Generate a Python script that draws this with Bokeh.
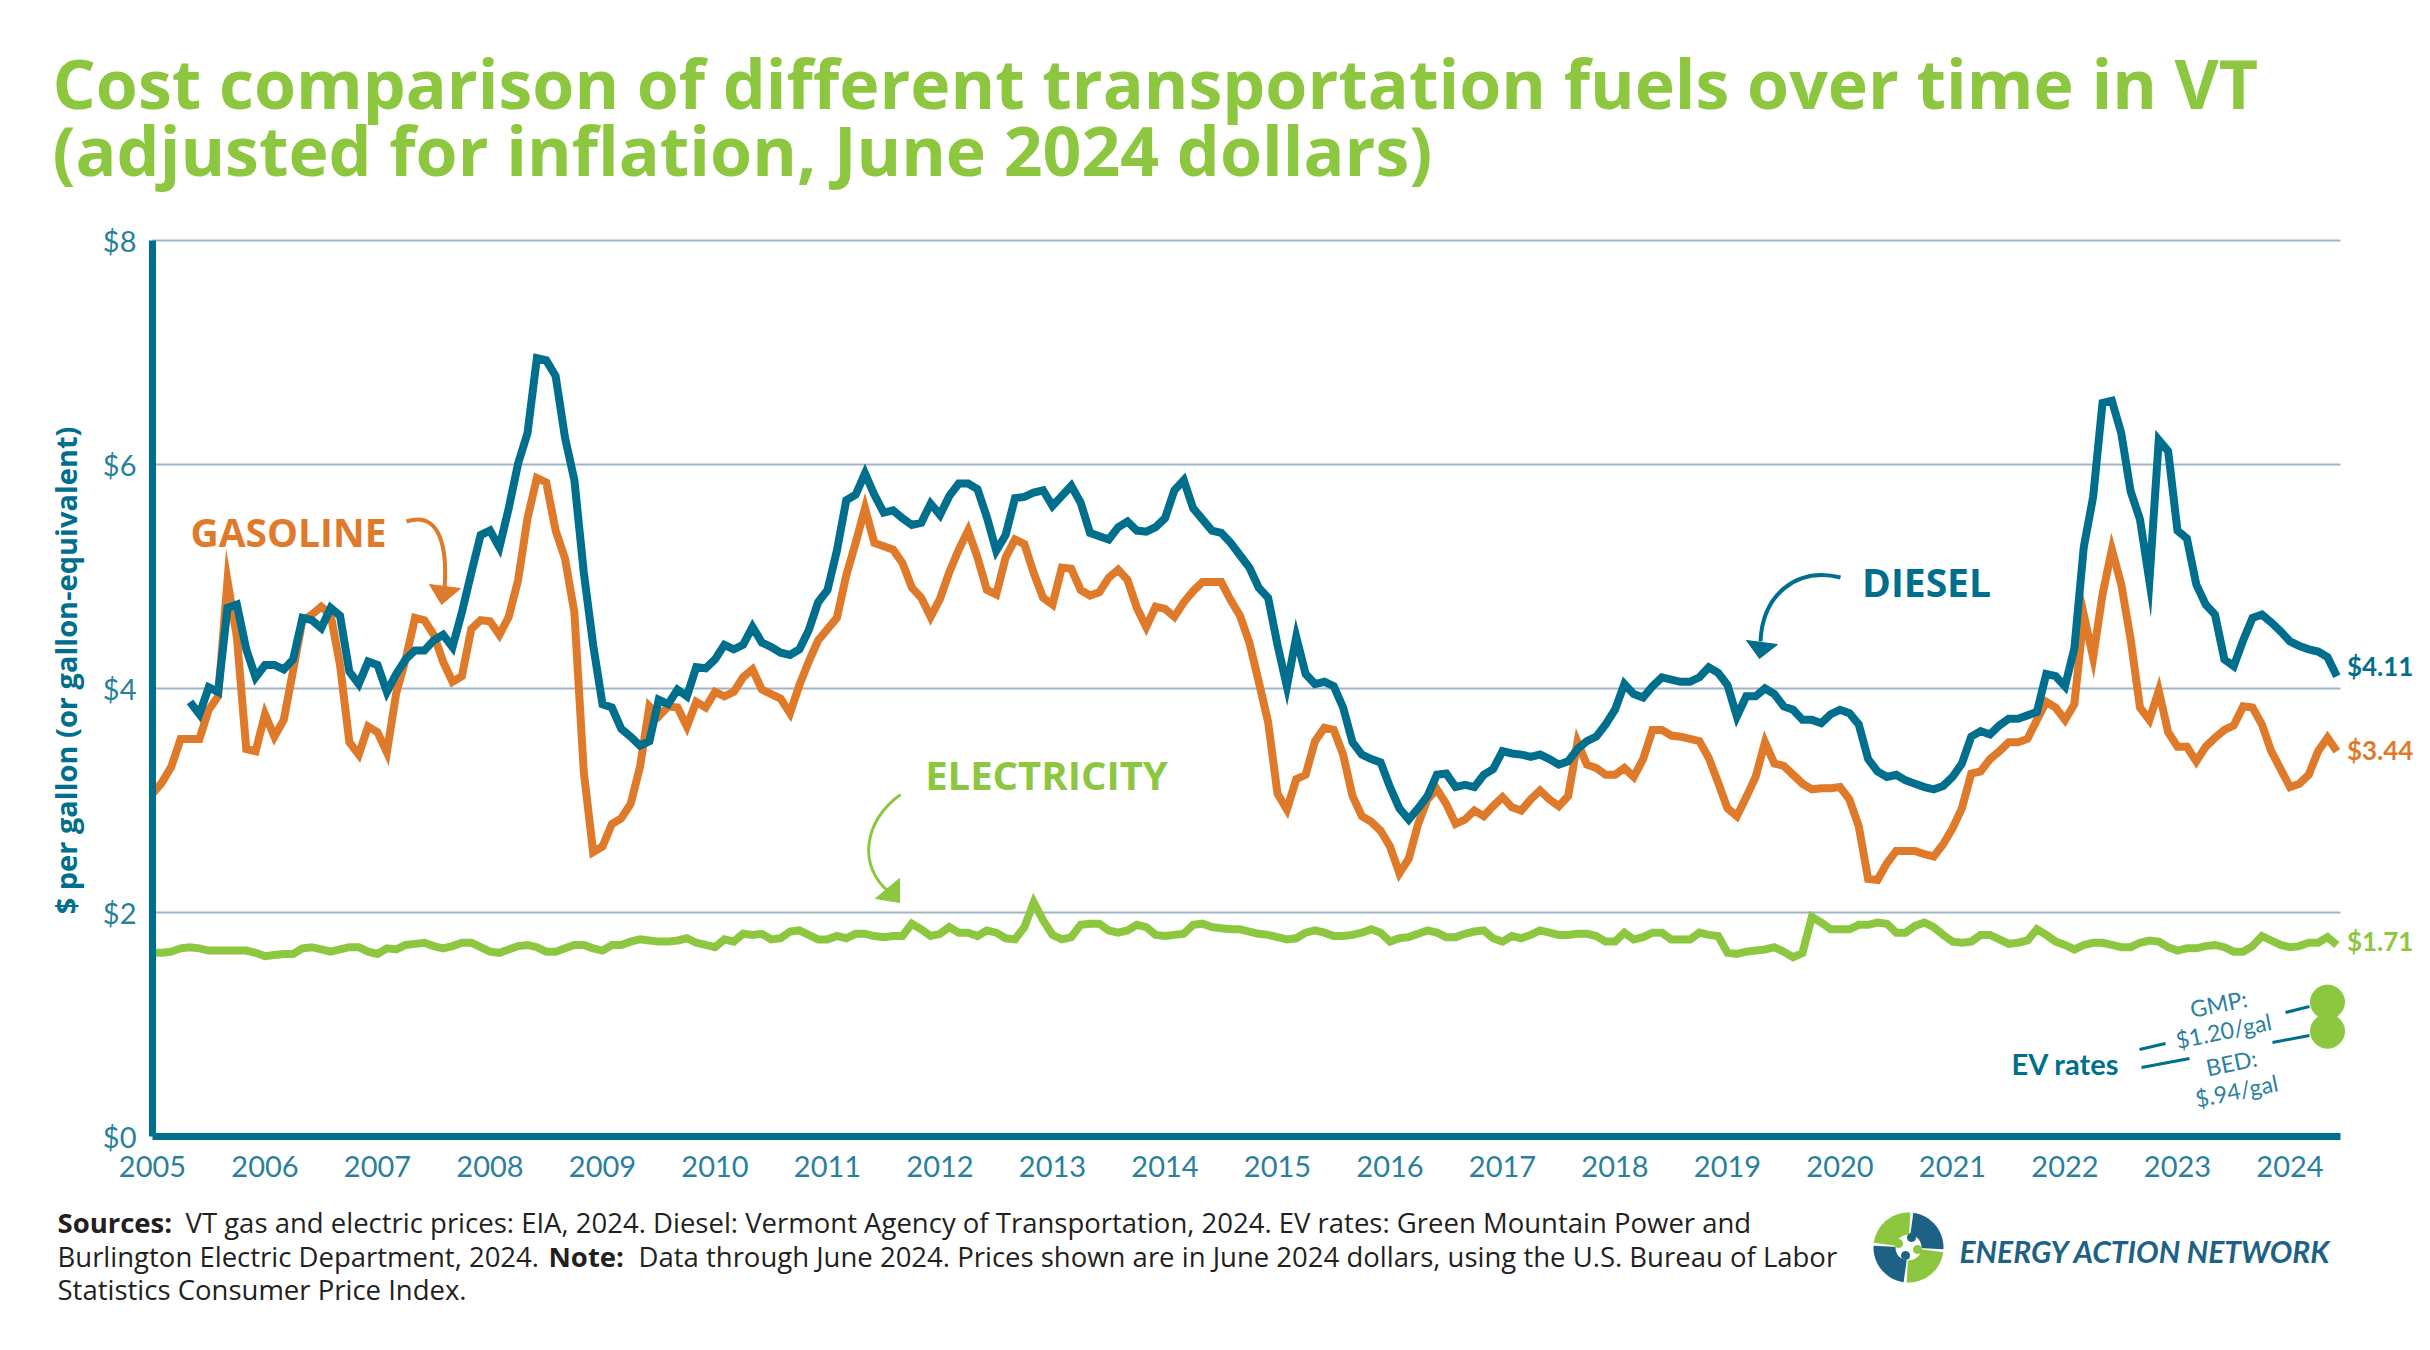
import math
from bokeh.plotting import figure
from bokeh.models import Range1d, FixedTicker, Label, PolyAnnotation
from bokeh.embed import file_html
from bokeh.resources import INLINE

# ---------------- data ----------------
YEARS = list(range(2005, 2025))
Y_TICKS = [0, 2, 4, 6, 8]
Y_TICK_LABELS = ["$0", "$2", "$4", "$6", "$8"]

# monthly, Jan 2005 .. Jun 2024, June-2024 dollars per gallon
gasoline = [
    3.06, 3.16, 3.30, 3.55, 3.55, 3.55, 3.81, 3.93, 4.96, 4.46, 3.46, 3.44,  # 2005
    3.77, 3.57, 3.72, 4.16, 4.61, 4.66, 4.73, 4.66, 4.21, 3.52, 3.41, 3.66,  # 2006
    3.61, 3.43, 3.96, 4.26, 4.63, 4.61, 4.48, 4.24, 4.06, 4.11, 4.53, 4.61,  # 2007
    4.60, 4.48, 4.64, 4.97, 5.52, 5.88, 5.84, 5.41, 5.16, 4.68, 3.26, 2.54,  # 2008
    2.59, 2.79, 2.84, 2.97, 3.30, 3.84, 3.75, 3.84, 3.83, 3.66, 3.88, 3.83,  # 2009
    3.97, 3.93, 3.97, 4.10, 4.17, 3.99, 3.95, 3.91, 3.78, 4.03, 4.24, 4.43,  # 2010
    4.53, 4.63, 5.01, 5.30, 5.61, 5.30, 5.27, 5.24, 5.12, 4.90, 4.81, 4.64,  # 2011
    4.80, 5.04, 5.24, 5.41, 5.17, 4.88, 4.84, 5.17, 5.33, 5.29, 5.03, 4.81,  # 2012
    4.75, 5.08, 5.07, 4.88, 4.83, 4.86, 4.99, 5.06, 4.97, 4.72, 4.55, 4.73,  # 2013
    4.71, 4.64, 4.77, 4.87, 4.95, 4.95, 4.95, 4.79, 4.65, 4.41, 4.06, 3.70,  # 2014
    3.06, 2.92, 3.19, 3.23, 3.53, 3.65, 3.63, 3.41, 3.04, 2.86, 2.81, 2.73,  # 2015
    2.59, 2.35, 2.48, 2.79, 3.01, 3.10, 2.97, 2.79, 2.83, 2.91, 2.86, 2.95,  # 2016
    3.03, 2.94, 2.91, 3.01, 3.09, 3.01, 2.95, 3.04, 3.52, 3.32, 3.29, 3.23,  # 2017
    3.23, 3.29, 3.21, 3.37, 3.63, 3.63, 3.58, 3.57, 3.55, 3.53, 3.38, 3.16,  # 2018
    2.93, 2.86, 3.03, 3.21, 3.52, 3.33, 3.31, 3.23, 3.15, 3.10, 3.11, 3.11,  # 2019
    3.12, 3.01, 2.77, 2.30, 2.29, 2.44, 2.55, 2.55, 2.55, 2.52, 2.50, 2.61,  # 2020
    2.75, 2.93, 3.24, 3.26, 3.37, 3.44, 3.52, 3.52, 3.55, 3.72, 3.88, 3.83,  # 2021
    3.72, 3.86, 4.66, 4.28, 4.84, 5.24, 4.93, 4.44, 3.83, 3.72, 3.98, 3.61,  # 2022
    3.48, 3.48, 3.35, 3.48, 3.56, 3.63, 3.67, 3.84, 3.83, 3.68, 3.44, 3.28,  # 2023
    3.12, 3.15, 3.23, 3.44, 3.56, 3.44,                                      # 2024
]

# monthly, May 2005 .. Jun 2024
diesel = [
    3.88, 3.77, 4.01, 3.97, 4.72, 4.75, 4.35, 4.10,                          # 2005 (May-Dec)
    4.21, 4.21, 4.17, 4.26, 4.63, 4.61, 4.54, 4.72, 4.65, 4.15, 4.04, 4.24,  # 2006
    4.21, 3.97, 4.13, 4.26, 4.34, 4.34, 4.43, 4.48, 4.37, 4.68, 5.03, 5.37,  # 2007
    5.41, 5.26, 5.61, 6.01, 6.28, 6.95, 6.93, 6.79, 6.24, 5.86, 5.04, 4.39,  # 2008
    3.86, 3.83, 3.64, 3.57, 3.49, 3.53, 3.90, 3.86, 3.99, 3.93, 4.19, 4.18,  # 2009
    4.26, 4.39, 4.35, 4.39, 4.55, 4.41, 4.37, 4.32, 4.30, 4.35, 4.52, 4.77,  # 2010
    4.88, 5.23, 5.68, 5.73, 5.92, 5.73, 5.57, 5.59, 5.52, 5.46, 5.48, 5.65,  # 2011
    5.55, 5.72, 5.83, 5.83, 5.78, 5.53, 5.23, 5.37, 5.70, 5.71, 5.75, 5.77,  # 2012
    5.63, 5.72, 5.81, 5.66, 5.39, 5.36, 5.33, 5.44, 5.49, 5.41, 5.40, 5.44,  # 2013
    5.52, 5.77, 5.86, 5.61, 5.51, 5.41, 5.39, 5.30, 5.19, 5.08, 4.90, 4.81,  # 2014
    4.39, 4.02, 4.46, 4.13, 4.04, 4.06, 4.02, 3.83, 3.52, 3.41, 3.37, 3.34,  # 2015
    3.12, 2.93, 2.83, 2.93, 3.04, 3.23, 3.24, 3.12, 3.14, 3.12, 3.23, 3.28,  # 2016
    3.44, 3.42, 3.41, 3.39, 3.41, 3.37, 3.32, 3.35, 3.46, 3.53, 3.57, 3.68,  # 2017
    3.81, 4.04, 3.95, 3.92, 4.02, 4.10, 4.08, 4.06, 4.06, 4.10, 4.19, 4.14,  # 2018
    4.03, 3.75, 3.93, 3.93, 4.00, 3.95, 3.84, 3.81, 3.72, 3.72, 3.69, 3.77,  # 2019
    3.81, 3.78, 3.68, 3.37, 3.26, 3.21, 3.23, 3.18, 3.15, 3.12, 3.10, 3.13,  # 2020
    3.21, 3.33, 3.57, 3.62, 3.59, 3.67, 3.73, 3.73, 3.76, 3.79, 4.13, 4.11,  # 2021
    4.02, 4.36, 5.26, 5.71, 6.55, 6.57, 6.28, 5.76, 5.51, 4.96, 6.22, 6.12,  # 2022
    5.41, 5.34, 4.93, 4.75, 4.66, 4.26, 4.20, 4.43, 4.63, 4.66, 4.59, 4.51,  # 2023
    4.42, 4.38, 4.35, 4.33, 4.28, 4.11,                                      # 2024
]

# monthly, Jan 2005 .. Jun 2024, $ per gallon-equivalent
electricity = [
    1.64, 1.64, 1.65, 1.68, 1.69, 1.68, 1.66, 1.66, 1.66, 1.66, 1.66, 1.64,  # 2005
    1.61, 1.62, 1.63, 1.63, 1.68, 1.69, 1.67, 1.65, 1.67, 1.69, 1.69, 1.65,  # 2006
    1.63, 1.68, 1.67, 1.71, 1.72, 1.73, 1.70, 1.68, 1.70, 1.73, 1.73, 1.69,  # 2007
    1.65, 1.64, 1.67, 1.70, 1.71, 1.69, 1.65, 1.65, 1.68, 1.71, 1.71, 1.68,  # 2008
    1.66, 1.71, 1.71, 1.74, 1.76, 1.75, 1.74, 1.74, 1.75, 1.77, 1.73, 1.71,  # 2009
    1.69, 1.76, 1.74, 1.81, 1.80, 1.81, 1.76, 1.77, 1.83, 1.84, 1.80, 1.76,  # 2010
    1.76, 1.79, 1.77, 1.81, 1.81, 1.79, 1.78, 1.79, 1.79, 1.90, 1.85, 1.79,  # 2011
    1.81, 1.87, 1.82, 1.82, 1.79, 1.84, 1.82, 1.77, 1.76, 1.87, 2.09, 1.93,  # 2012
    1.80, 1.76, 1.78, 1.89, 1.90, 1.90, 1.84, 1.82, 1.84, 1.89, 1.87, 1.80,  # 2013
    1.79, 1.80, 1.81, 1.89, 1.90, 1.87, 1.86, 1.85, 1.85, 1.83, 1.81, 1.80,  # 2014
    1.78, 1.76, 1.77, 1.82, 1.84, 1.82, 1.79, 1.79, 1.80, 1.82, 1.85, 1.82,  # 2015
    1.74, 1.77, 1.78, 1.81, 1.84, 1.82, 1.78, 1.78, 1.81, 1.83, 1.84, 1.77,  # 2016
    1.74, 1.79, 1.77, 1.80, 1.84, 1.82, 1.80, 1.80, 1.81, 1.81, 1.79, 1.74,  # 2017
    1.74, 1.82, 1.76, 1.78, 1.82, 1.82, 1.76, 1.76, 1.76, 1.82, 1.80, 1.79,  # 2018
    1.64, 1.63, 1.65, 1.66, 1.67, 1.69, 1.65, 1.60, 1.64, 1.96, 1.91, 1.85,  # 2019
    1.85, 1.85, 1.89, 1.89, 1.91, 1.90, 1.82, 1.82, 1.88, 1.91, 1.87, 1.80,  # 2020
    1.74, 1.73, 1.74, 1.80, 1.80, 1.76, 1.72, 1.73, 1.75, 1.85, 1.80, 1.74,  # 2021
    1.71, 1.67, 1.71, 1.73, 1.73, 1.71, 1.69, 1.69, 1.73, 1.75, 1.74, 1.69,  # 2022
    1.66, 1.68, 1.68, 1.70, 1.71, 1.69, 1.65, 1.65, 1.70, 1.79, 1.75, 1.71,  # 2023
    1.69, 1.70, 1.73, 1.73, 1.78, 1.71,                                      # 2024
]

ev_rate_names = ["GMP", "BED"]
ev_rate_values = [1.20, 0.94]

# ---------------- styling ----------------
TEAL = "#006E8D"
ORANGE = "#DF7A2B"
GREEN = "#8DC63F"
TICK = "#2B7F9E"
GRID = "#9DB4C9"
DARK = "#231F20"
LOGO_TEAL = "#1D6285"
FONT = "Lato"
BOLDFONT = "Open Sans"

W, H = 2430, 1350
FL, FR, FT, FB = 152, 2340, 240, 1136  # plot-area edges (px)
PX_YEAR = 112.5
PX_DOLLAR = (FB - FT) / 8.0


def dx(px):
    return 2005 + (px - FL) / PX_YEAR


def dy(py):
    return (FB - py) / PX_DOLLAR


X_END = dx(FR)
months = [2005 + i / 12 for i in range(len(gasoline))]
diesel_x = months[len(months) - len(diesel):]

# the frame covers the whole canvas; axes are pinned at the plot-area edges
p = figure(width=W, height=H, x_range=Range1d(dx(0), dx(W)), y_range=Range1d(dy(H), dy(0)),
           output_backend="svg", toolbar_location=None, min_border=0)
p.min_border_left = p.min_border_right = p.min_border_top = p.min_border_bottom = 0
p.outline_line_color = None
p.background_fill_color = "white"
p.border_fill_color = "white"
p.grid.visible = False

p.yaxis.ticker = FixedTicker(ticks=Y_TICKS)
p.yaxis.major_label_overrides = {t: s for t, s in zip(Y_TICKS, Y_TICK_LABELS)}
p.yaxis.fixed_location = 2005
p.yaxis.bounds = (Y_TICKS[0], Y_TICKS[-1])
p.xaxis.ticker = FixedTicker(ticks=YEARS)
p.xaxis.major_label_overrides = {y: str(y) for y in YEARS}
p.xaxis.fixed_location = 0
p.xaxis.bounds = (2005, X_END)
for ax in (p.xaxis, p.yaxis):
    ax.axis_line_color = TEAL
    ax.axis_line_width = 7
    ax.major_tick_line_color = None
    ax.minor_tick_line_color = None
    ax.major_label_text_font = FONT
    ax.major_label_text_font_size = "29px"
    ax.major_label_text_color = TICK
p.yaxis.major_label_standoff = 10
p.xaxis.major_label_standoff = 13

# horizontal grid lines at the y ticks (within the plot area)
gy = [t for t in Y_TICKS if t > 0]
p.segment(x0=[2005] * len(gy), y0=gy, x1=[X_END] * len(gy), y1=gy,
          line_color=GRID, line_width=2)

LW = 8
p.line(months, electricity, line_color=GREEN, line_width=LW, line_join="miter")
p.line(months, gasoline, line_color=ORANGE, line_width=LW, line_join="miter")
p.line(diesel_x, diesel, line_color=TEAL, line_width=LW, line_join="miter")

# EV rate markers
ev_x = months[-2]
p.scatter([ev_x] * len(ev_rate_values), ev_rate_values, size=34, color=GREEN)


def label(px, py, text, size, color, bold=False, align="left", baseline="middle",
          angle=0.0, font=FONT, italic=False):
    style = "bold" if bold else "normal"
    if italic:
        style = "bold italic" if bold else "italic"
    p.add_layout(Label(x=dx(px), y=dy(py), text=text, text_font=font,
                       text_font_size=f"{size}px", text_font_style=style,
                       text_color=color, text_align=align, text_baseline=baseline,
                       angle=angle))


# title
label(52, 82, "Cost comparison of different transportation fuels over time in VT", 68, GREEN,
      bold=True, font=BOLDFONT)
label(52, 149, "(adjusted for inflation, June 2024 dollars)", 68, GREEN, bold=True, font=BOLDFONT)

# y-axis title
label(65, 670, "$ per gallon (or gallon-equivalent)", 29, TEAL, bold=True, align="center",
      angle=math.pi / 2, font=BOLDFONT)

# series annotations
label(288, 531, "GASOLINE", 39, ORANGE, bold=True, align="center", font=BOLDFONT)
label(1926, 581, "DIESEL", 39, TEAL, bold=True, align="center", font=BOLDFONT)
label(1046, 774, "ELECTRICITY", 40, GREEN, bold=True, align="center", font=BOLDFONT)


def curve(p0, c0, c1, p1, head, color, width):
    p.bezier(x0=[dx(p0[0])], y0=[dy(p0[1])], x1=[dx(p1[0])], y1=[dy(p1[1])],
             cx0=[dx(c0[0])], cy0=[dy(c0[1])], cx1=[dx(c1[0])], cy1=[dy(c1[1])],
             line_color=color, line_width=width)
    p.patch([dx(h[0]) for h in head], [dy(h[1]) for h in head],
            fill_color=color, line_color=color, line_width=1)


curve((406, 521), (440, 510), (447, 548), (444, 588),
      [(429, 584), (460, 588), (441, 604)], ORANGE, 4)
curve((1840, 577), (1795, 566), (1762, 595), (1760, 641),
      [(1746, 640), (1777, 644), (1759, 658)], TEAL, 4)
curve((900, 794), (862, 822), (858, 866), (888, 891),
      [(875, 898), (899, 878), (899, 902)], GREEN, 3)

# end-value labels
for series, xs, color, yoff in ((diesel, diesel_x, TEAL, 10),
                                (gasoline, months, ORANGE, 1),
                                (electricity, months, GREEN, 4)):
    p.add_layout(Label(x=xs[-1], y=series[-1], text=f"${series[-1]:.2f}", x_offset=10,
                       y_offset=yoff, text_font=FONT, text_font_size="26px",
                       text_font_style="bold", text_color=color, text_baseline="middle"))

# EV rates callout
label(2065, 1063, "EV rates", 29, TEAL, bold=True, align="center")
seg = [((2139, 1049), (2165, 1043)), ((2285, 1012), (2309, 1006)),
       ((2141, 1067), (2189, 1058)), ((2272, 1042), (2309, 1035))]
p.segment(x0=[dx(a[0]) for a, b in seg], y0=[dy(a[1]) for a, b in seg],
          x1=[dx(b[0]) for a, b in seg], y1=[dy(b[1]) for a, b in seg],
          line_color=TEAL, line_width=3)


def rate_text(v):
    return "$" + f"{v:.2f}".lstrip("0") + "/gal"


ang = 0.2
label(2218, 1003, ev_rate_names[0] + ":", 23, TICK, align="center", angle=ang)
label(2223, 1030, rate_text(ev_rate_values[0]), 23, TICK, align="center", angle=ang)
label(2231, 1062, ev_rate_names[1] + ":", 23, TICK, align="center", angle=ang)
label(2236, 1090, rate_text(ev_rate_values[1]), 23, TICK, align="center", angle=ang)

# footer
FF = "Open Sans"
FS = 27.5
label(57, 1222, "Sources:", FS, DARK, bold=True, font=FF)
label(185, 1222, "VT gas and electric prices: EIA, 2024. Diesel: Vermont Agency of Transportation, "
      "2024. EV rates: Green Mountain Power and", FS, DARK, font=FF)
label(57, 1256, "Burlington Electric Department, 2024.", FS, DARK, font=FF)
label(548, 1256, "Note:", FS, DARK, bold=True, font=FF)
label(638, 1256, "Data through June 2024. Prices shown are in June 2024 dollars, using the U.S. "
      "Bureau of Labor", FS, DARK, font=FF)
label(57, 1289, "Statistics Consumer Price Index.", FS, DARK, font=FF)


# logo
def poly(pts, color):
    p.add_layout(PolyAnnotation(xs=[dx(a) for a, b in pts], ys=[dy(b) for a, b in pts],
                                fill_color=color, fill_alpha=1.0, line_alpha=0.0))


def wedge_pts(cx, cy, r, a0, a1, n=40):
    pts = [(cx, cy)]
    for k in range(n + 1):
        a = math.radians(a0 + (a1 - a0) * k / n)
        pts.append((cx + r * math.cos(a), cy - r * math.sin(a)))
    return pts


LCX, LCY, LR = 1908, 1247, 35
for a0, a1, col in ((-3, 82, LOGO_TEAL), (87, 172, GREEN), (177, 262, LOGO_TEAL), (267, 352, GREEN)):
    poly(wedge_pts(LCX, LCY, LR, a0, a1), col)
poly(wedge_pts(LCX, LCY, 13, 0, 360)[1:], "white")
for (ox, oy, col) in ((-10, -4, GREEN), (3, -10, LOGO_TEAL), (9, 2, GREEN), (-3, 8, LOGO_TEAL)):
    poly(wedge_pts(LCX + ox, LCY + oy, 4.5, 0, 360, 20)[1:], col)
label(1959, 1250, "ENERGY ACTION NETWORK", 30, LOGO_TEAL, bold=True, italic=True)

open("out.html", "w").write(file_html(p, INLINE))
